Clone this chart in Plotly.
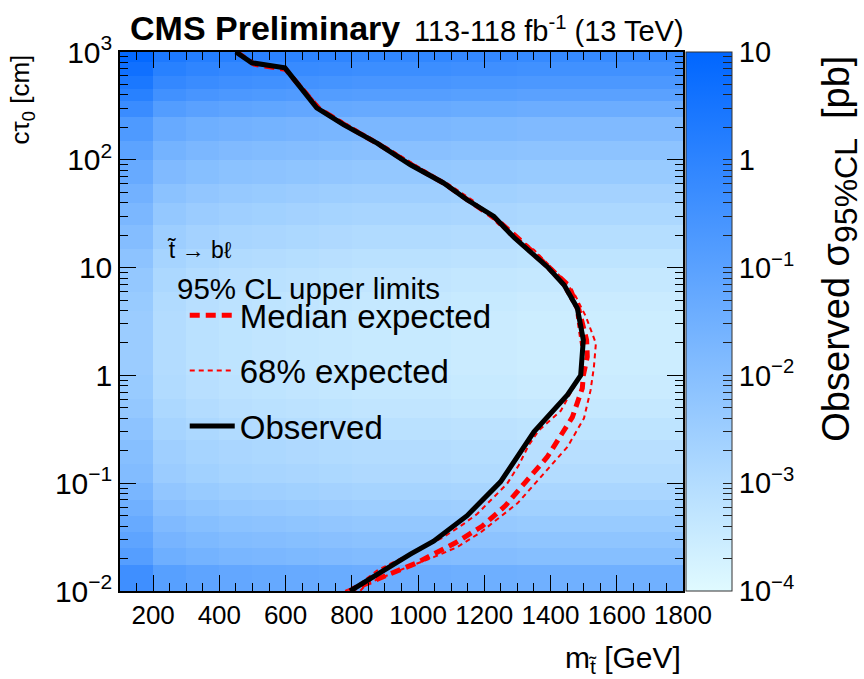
import math
import plotly.graph_objects as go

# ---------------- data ----------------
mass_edges = [100, 200, 300, 400, 500, 600, 700, 800, 900, 1000, 1100, 1200,
              1300, 1400, 1500, 1600, 1700, 1800]
ctau_edges = [0.01, 0.0175, 0.025, 0.035, 0.05, 0.07, 0.1, 0.15, 0.25, 0.4, 0.6,
              1, 1.5, 2.5, 4, 6, 10, 15, 25, 40, 60, 100, 150, 250, 350, 450,
              600, 800, 1000]
# log10(sigma/pb) per ctau row (bottom -> top), at mid masses
row_logsig = [-1.4, -1.9, -2.1, -2.3, -2.5, -2.7, -2.9, -3.0, -3.15, -3.3, -3.4,
              -3.45, -3.45, -3.45, -3.4, -3.3, -3.15, -2.95, -2.75, -2.55, -2.3,
              -2.05, -1.75, -1.3, -0.9, -0.6, -0.35, -0.1]
# mass-column shift of log10(sigma)
col_shift = [1.0, 0.45, 0.3, 0.2, 0.15, 0.1, 0.05, 0.0, 0.0, 0.0, -0.05, -0.05,
             -0.1, -0.1, -0.1, -0.1, -0.1]

obs_mass = [450, 498, 598, 694, 775, 876, 977, 1077, 1148, 1229, 1290, 1390,
            1441, 1481, 1499, 1496, 1491, 1451, 1380, 1350, 1249, 1148, 1047,
            977, 795]
obs_ctau = [1000, 794, 713, 303, 212, 143, 90, 61, 42.6, 29.8, 19, 10.2, 6.9,
            4.2, 2.13, 1.49, 1.0, 0.66, 0.38, 0.30, 0.103, 0.050, 0.029, 0.022,
            0.01]

exp_mass = [452, 505, 600, 700, 780, 880, 980, 1080, 1152, 1237, 1300, 1400,
            1455, 1486, 1509, 1511, 1499, 1496, 1466, 1441, 1390, 1325, 1264,
            1194, 1113, 992, 891, 790]
exp_ctau = [1000, 770, 690, 300, 210, 140, 90, 60, 42, 28, 19, 10, 6.8, 4.05,
            2.13, 1.49, 1.0, 0.76, 0.41, 0.31, 0.175, 0.103, 0.062, 0.040,
            0.028, 0.018, 0.0134, 0.01]

exp_up_mass = [455, 508, 605, 705, 790, 890, 990, 1090, 1165, 1244, 1350, 1431,
               1471, 1507, 1537, 1531, 1521, 1501, 1451, 1370, 1300, 1249, 1189,
               1118, 1047, 967, 846, 825]
exp_up_ctau = [1000, 770, 690, 300, 210, 140, 90, 60, 42, 25, 14.6, 8.2, 5.8,
               3.5, 1.98, 1.2, 0.73, 0.40, 0.217, 0.114, 0.065, 0.049, 0.035,
               0.0255, 0.0206, 0.0166, 0.0117, 0.01]

exp_dn_mass = [450, 500, 596, 692, 772, 872, 972, 1072, 1143, 1222, 1285, 1385,
               1436, 1476, 1486, 1496, 1491, 1461, 1431, 1365, 1334, 1304, 1269,
               1224, 1179, 1138, 1077, 1017, 876, 825, 780]
exp_dn_ctau = [1000, 780, 705, 303, 212, 143, 90, 61, 42.6, 29.8, 19, 10.2, 6.9,
               4.2, 2.6, 1.6, 0.98, 0.69, 0.47, 0.31, 0.225, 0.147, 0.099, 0.072,
               0.052, 0.042, 0.0316, 0.0255, 0.0155, 0.0117, 0.01]

y_tickvals = [0.01, 0.1, 1, 10, 100, 1000]
y_ticktext = ["10<sup>\u22122</sup>", "10<sup>\u22121</sup>", "1", "10",
              "10<sup>2</sup>", "10<sup>3</sup>"]
x_tickvals = [200, 400, 600, 800, 1000, 1200, 1400, 1600, 1800]
cb_tickvals = [-4, -3, -2, -1, 0, 1]
cb_ticktext = ["10<sup>\u22124</sup>", "10<sup>\u22123</sup>", "10<sup>\u22122</sup>",
               "10<sup>\u22121</sup>", "1", "10"]

z = [[r + c for c in col_shift] for r in row_logsig]

FONT = "Liberation Sans"

# minor tick positions for the log axes
y_minor = [k * 10.0 ** e for e in range(-2, 3) for k in range(2, 10)]
cb_minor = [math.log10(k) + e for e in range(-4, 1) for k in range(2, 10)]

fig = go.Figure()
fig.add_trace(go.Heatmap(
    x=mass_edges, y=ctau_edges, z=z, zmin=-4, zmax=1,
    colorscale=[[0, "#e0faff"], [1, "#0066ff"]],
    hoverinfo="skip",
    colorbar=dict(
        x=1.006, xanchor="left", xpad=0, ypad=0, y=0.5, yanchor="middle",
        len=1, lenmode="fraction", thickness=46, thicknessmode="pixels",
        outlinewidth=1, outlinecolor="#333333",
        tickmode="array", tickvals=cb_tickvals + cb_minor,
        ticktext=cb_ticktext + [""] * len(cb_minor),
        ticks="inside", ticklen=9, tickcolor="#222222", tickwidth=1,
        tickfont=dict(family=FONT, size=29, color="black"),
    ),
))

fig.add_trace(go.Scatter(
    x=exp_up_mass, y=exp_up_ctau, mode="lines", name="68% expected",
    legendgroup="p68", legendrank=2,
    line=dict(color="#ff0000", width=2, dash="5px,4px"),
))
fig.add_trace(go.Scatter(
    x=exp_dn_mass, y=exp_dn_ctau, mode="lines", name="68% expected",
    legendgroup="p68", showlegend=False, legendrank=2,
    line=dict(color="#ff0000", width=2, dash="5px,4px"),
))
fig.add_trace(go.Scatter(
    x=exp_mass, y=exp_ctau, mode="lines", name="Median expected",
    legendgroup="med", legendrank=1,
    line=dict(color="#ff0000", width=5, dash="10px,6px"),
))
fig.add_trace(go.Scatter(
    x=obs_mass, y=obs_ctau, mode="lines", name="Observed",
    legendgroup="obs", legendrank=3,
    line=dict(color="black", width=5),
))

axis_common = dict(
    showline=True, linecolor="black", linewidth=1.5, mirror="allticks",
    ticks="inside", ticklen=16, tickwidth=1.2, tickcolor="black",
    showgrid=False, zeroline=False,
)

fig.update_xaxes(
    range=[100, 1800], tickmode="array", tickvals=x_tickvals,
    tickfont=dict(family=FONT, size=26, color="black"),
    minor=dict(dtick=50, tick0=0, ticklen=8, ticks="inside", tickcolor="black",
               showgrid=False),
    **axis_common,
)
fig.update_yaxes(
    type="log", range=[-2, 3], tickmode="array", tickvals=y_tickvals,
    ticktext=y_ticktext,
    tickfont=dict(family=FONT, size=30, color="black"),
    minor=dict(tickmode="array", tickvals=y_minor, ticklen=8, ticks="inside",
               tickcolor="black", showgrid=False),
    **axis_common,
)

annotations = [
    dict(text="<b>CMS Preliminary</b>", x=0.0142, y=1.0445, xanchor="left",
         yanchor="middle", font=dict(family=FONT, size=34, color="black")),
    dict(text="113-118 fb<sup>-1</sup> (13 TeV)", x=1.005, y=1.042,
         xanchor="right", yanchor="middle",
         font=dict(family=FONT, size=29, color="black")),
    dict(text="t\u0303 \u2192 b\u2113", x=0.080, y=0.633, xanchor="left",
         yanchor="middle", font=dict(family=FONT, size=23, color="black")),
    dict(text="95% CL upper limits", x=0.0977, y=0.561, xanchor="left",
         yanchor="middle", font=dict(family=FONT, size=29.5, color="black")),
    dict(text="c\u03c4<sub>0</sub> [cm]", x=-0.175, y=1.0, xanchor="center",
         yanchor="top", textangle=-90,
         font=dict(family=FONT, size=26, color="black")),
    dict(text="m<sub>t\u0303</sub> [GeV]", x=1.0, y=-0.128, xanchor="right",
         yanchor="middle", font=dict(family=FONT, size=30, color="black")),
    dict(text="Observed \u03c3<sub><span style='font-size:32px'>95%CL</span></sub>"
              "\u2002[pb]", x=1.279, y=0.997,
         xanchor="center", yanchor="top", textangle=-90,
         font=dict(family=FONT, size=38, color="black")),
]
for a in annotations:
    a.update(xref="paper", yref="paper", showarrow=False)

fig.update_layout(
    width=864, height=679,
    margin=dict(l=120, r=181, t=52, b=88),
    paper_bgcolor="white", plot_bgcolor="white",
    font=dict(family=FONT, color="black"),
    annotations=annotations,
    showlegend=True,
    legend=dict(x=0.115, y=0.5636, xanchor="left", yanchor="top",
                bgcolor="rgba(0,0,0,0)", borderwidth=0,
                font=dict(family=FONT, size=33, color="black"),
                tracegroupgap=9.5, itemwidth=45, traceorder="grouped"),
)

fig.write_html("out.html")
